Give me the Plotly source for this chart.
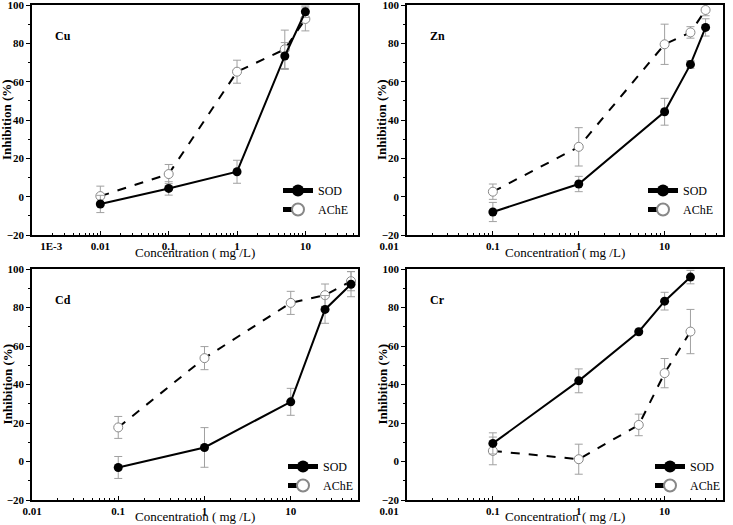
import plotly.graph_objects as go

WIN_W, WIN_H = 733, 525
OFF = 0  # body margin removed by post_script below
W, H = WIN_W - OFF, WIN_H - OFF

# ---- data ----
cu_x = [0.01, 0.1, 1, 5, 10]
cu_sod = [-3.8, 4.3, 13.0, 73.4, 96.5]
cu_sod_err = [4.5, 3.5, 6.0, 7.0, 3.0]
cu_ache = [0.3, 11.8, 65.2, 76.9, 92.7]
cu_ache_err = [5.2, 5.0, 6.0, 10.0, 6.2]

zn_x = [0.1, 1, 10, 20, 30]
zn_sod = [-8.0, 6.6, 44.3, 69.0, 88.3]
zn_sod_err = [5.0, 4.0, 7.0, 2.0, 4.5]
zn_ache = [2.6, 26.0, 79.5, 85.7, 97.4]
zn_ache_err = [4.0, 10.0, 10.5, 3.0, 3.0]

cd_x = [0.1, 1, 10, 25, 50]
cd_sod = [-3.1, 7.3, 31.0, 79.0, 92.1]
cd_sod_err = [5.7, 10.3, 7.0, 7.2, 6.5]
cd_ache = [17.7, 53.7, 82.4, 86.4, 93.7]
cd_ache_err = [5.7, 6.0, 6.0, 5.8, 5.0]

cr_x = [0.1, 1, 5, 10, 20]
cr_sod = [9.4, 41.9, 67.4, 83.3, 95.8]
cr_sod_err = [5.5, 6.2, 0.5, 4.6, 3.5]
cr_ache = [5.5, 1.2, 19.0, 45.9, 67.5]
cr_ache_err = [7.2, 7.8, 5.6, 7.6, 11.5]

metals = ["Cu", "Zn", "Cd", "Cr"]
series = [
    (cu_x, cu_sod, cu_sod_err, cu_ache, cu_ache_err),
    (zn_x, zn_sod, zn_sod_err, zn_ache, zn_ache_err),
    (cd_x, cd_sod, cd_sod_err, cd_ache, cd_ache_err),
    (cr_x, cr_sod, cr_sod_err, cr_ache, cr_ache_err),
]
NB = "\u00a0"
x_tickvals = [
    [0.001, 0.01, 0.1, 1, 10],
    [0.01, 0.1, 1, 10],
    [0.01, 0.1, 1, 10],
    [0.01, 0.1, 1, 10],
]
x_ticktext = [
    [NB * 14 + "1E-3", "0.01", "0.1", "1", "10"],
    ["0.01" + NB * 13, "0.1", "1", "10"],
    ["0.01", "0.1", "1", "10"],
    ["0.01" + NB * 13, "0.1", "1", "10"],
]
x_ranges = [[-3, 1.77], [-2, 1.68], [-2, 1.78], [-2, 1.68]]
x_title = "Concentration ( mg /L)"
y_title = "Inhibition (%)"

# ---- layout geometry (window pixels) ----
px_boxes = [  # left, right, top, bottom
    (32, 358, 5, 235),
    (407, 723, 5, 235),
    (32, 358, 269, 500),
    (407, 723, 269, 500),
]
x_title_gap = [18, 18, 16, 16]
legend_marker_px = [(298, 193), (663, 193), (303, 469), (670, 469)]


def fx(px):
    return (px - OFF) / W


def fy(py):
    return 1 - (py - OFF) / H


SERIF = "Liberation Serif, Times New Roman, serif"
fig = go.Figure()
layout = dict(
    width=W, height=H, margin=dict(l=0, r=0, t=0, b=0, autoexpand=False),
    paper_bgcolor="white", plot_bgcolor="white",
    font=dict(family=SERIF, color="black"),
    showlegend=True,
)
annotations = []

for i, (name, (xs, sod, sode, ache, achee)) in enumerate(zip(metals, series)):
    n = i + 1
    xa = "x" if n == 1 else f"x{n}"
    ya = "y" if n == 1 else f"y{n}"
    lg = "legend" if n == 1 else f"legend{n}"
    l, r, t, b = px_boxes[i]
    fig.add_trace(go.Scatter(
        x=xs, y=ache, xaxis=xa, yaxis=ya, name="AChE", legend=lg,
        mode="lines+markers",
        line=dict(color="black", width=2, dash="dash"),
        marker=dict(symbol="circle", size=9, color="white",
                    line=dict(color="#888888", width=1)),
        error_y=dict(type="data", array=achee, visible=True,
                     color="#a0a0a0", thickness=1, width=4),
    ))
    fig.add_trace(go.Scatter(
        x=xs, y=sod, xaxis=xa, yaxis=ya, name="SOD", legend=lg,
        mode="lines+markers",
        line=dict(color="black", width=2),
        marker=dict(symbol="circle", size=9, color="black"),
        error_y=dict(type="data", array=sode, visible=True,
                     color="#a0a0a0", thickness=1, width=4),
    ))
    lo, hi = x_ranges[i]
    minor_vals = [k * 10.0 ** e for e in range(int(lo) - 1, int(hi) + 2) for k in range(2, 10)]
    layout["xaxis" if n == 1 else f"xaxis{n}"] = dict(
        type="log", range=[lo, hi], domain=[fx(l), fx(r)],
        anchor=ya, showgrid=False, zeroline=False, automargin=False,
        showline=True, linecolor="black", linewidth=1.5, mirror=True,
        ticks="inside", ticklen=4, tickwidth=1.2, tickcolor="black",
        tickmode="array", tickvals=x_tickvals[i], ticktext=x_ticktext[i],
        tickfont=dict(family=SERIF, size=11, weight="bold"),
        ticklabeloverflow="allow",
        minor=dict(ticks="inside", ticklen=2, tickwidth=1, tickcolor="black",
                   tickmode="array", tickvals=minor_vals, showgrid=False),
    )
    layout["yaxis" if n == 1 else f"yaxis{n}"] = dict(
        range=[-20, 100], domain=[fy(b), fy(t)],
        anchor=xa, showgrid=False, zeroline=False, automargin=False,
        showline=True, linecolor="black", linewidth=1.5, mirror=True,
        ticks="outside", ticklen=4, tickwidth=1.2, tickcolor="black",
        tickmode="linear", tick0=-20, dtick=20,
        tickfont=dict(family=SERIF, size=11, weight="bold"),
        ticklabeloverflow="allow",
        minor=dict(ticks="outside", ticklen=2, tickwidth=1, tickcolor="black",
                   dtick=10, showgrid=False),
    )
    mx, my = legend_marker_px[i]
    layout[lg] = dict(
        x=fx(mx - 20), y=fy(my - 17), xanchor="left", yanchor="top",
        bgcolor="rgba(0,0,0,0)", borderwidth=0,
        font=dict(family=SERIF, size=12), traceorder="reversed",
        itemsizing="constant", itemwidth=30, tracegroupgap=0,
    )
    annotations.append(dict(
        text=f"<b>{name}</b>", xref="paper", yref="paper",
        x=fx(l + 31), y=fy(t + 31), xanchor="center", yanchor="middle",
        showarrow=False, font=dict(family=SERIF, size=12),
    ))
    annotations.append(dict(
        text=x_title, xref="paper", yref="paper",
        x=fx((l + r) / 2), y=fy(b + x_title_gap[i]), xanchor="center", yanchor="middle",
        showarrow=False, font=dict(family=SERIF, size=13),
    ))
    annotations.append(dict(
        text=f"<b>{y_title}</b>", xref="paper", yref="paper", textangle=-90,
        x=fx(l - 25), y=fy((t + b) / 2), xanchor="center", yanchor="middle",
        showarrow=False, font=dict(family=SERIF, size=13),
    ))

layout["annotations"] = annotations
fig.update_layout(**layout)
fig.write_html("out.html", config={"displayModeBar": False},
               post_script="document.body.style.margin='0';")
